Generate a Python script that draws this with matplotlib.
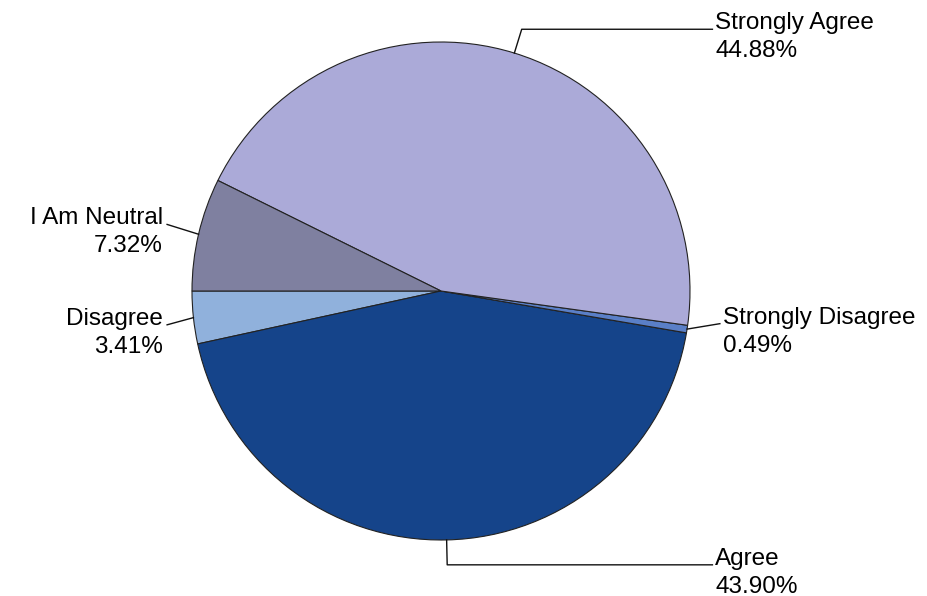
import numpy as np
import matplotlib
matplotlib.use("Agg")
import matplotlib.pyplot as plt

categories = ["Disagree", "Agree", "Strongly Disagree", "Strongly Agree", "I Am Neutral"]
values = [3.41, 43.90, 0.49, 44.88, 7.32]
pct_labels = ["3.41%", "43.90%", "0.49%", "44.88%", "7.32%"]
colors = ["#90B1DC", "#15448A", "#5A7FC7", "#ABAAD8", "#7F80A0"]
label_style = ["straight", "elbow", "straight", "elbow", "straight"]
label_nudge = [-4, 0, 10, 0, 3]   # vertical nudge of label anchor, px

W, H = 927, 596
fig = plt.figure(figsize=(W / 100, H / 100), dpi=100)
ax = fig.add_axes([0, 0, 1, 1])

cx, cy = 441, H - 291
R = 249

wedges, _ = ax.pie(values, colors=colors, startangle=180, counterclock=True,
                   center=(cx, cy), radius=R,
                   wedgeprops=dict(edgecolor="#222222", linewidth=0.8))
ax.set_xlim(0, W)
ax.set_ylim(0, H)
ax.set_aspect("auto")
ax.axis("off")

font = dict(family=["Liberation Sans", "DejaVu Sans"], fontsize=17.5, color="#000000")
line_kw = dict(color="#111111", linewidth=1.0)
gap = 28

for w, name, pct, style, nd in zip(wedges, categories, pct_labels, label_style, label_nudge):
    mid = np.deg2rad((w.theta1 + w.theta2) / 2)
    c, s = np.cos(mid), np.sin(mid)
    x0, y0 = cx + R * c, cy + R * s
    right = c > 0
    if style == "elbow":
        x1, y1 = cx + 1.1 * R * c, cy + 1.1 * R * s
        x2 = cx + (1.09 * R if right else -1.09 * R)
        ax.plot([x0, x1, x2], [y0, y1, y1], **line_kw)
        tx, ty = x2, y1
    else:
        x1 = cx + (1.12 * R if right else -1.10 * R)
        y1 = cy + 1.12 * R * s + nd
        ax.plot([x0, x1], [y0, y1], **line_kw)
        tx, ty = x1, y1
    if right:
        tx += 3
        ha = "left"
    else:
        tx -= 4
        ha = "right"
    ax.text(tx, ty, name, ha=ha, va="baseline", **font)
    ax.text(tx, ty - gap, pct, ha=ha, va="baseline", **font)

fig.savefig("out.png", dpi=100, facecolor="white")
